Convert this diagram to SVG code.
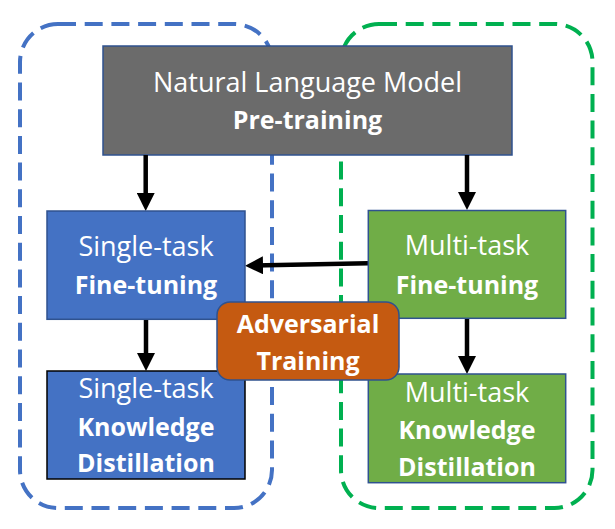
<svg xmlns="http://www.w3.org/2000/svg" width="615" height="529" viewBox="0 0 615 529">
  <defs>
    <marker id="arrow" viewBox="0 0 18 18" refX="10" refY="9" markerWidth="18" markerHeight="18" markerUnits="userSpaceOnUse" orient="auto">
      <path d="M0,0 L18,9 L0,18 Z" fill="#000"/>
    </marker>
    <style>
      .group { fill: none; stroke-width: 4; stroke-dasharray: 18 8.7; }
      .box { stroke-width: 1.5; }
      .t { font-family: "Open Sans", "Noto Sans", sans-serif; fill: #fff; text-anchor: middle; }
      .r { font-size: 27px; font-weight: 400; }
      .b { font-size: 25px; font-weight: 700; }
      .conn { stroke: #000; stroke-width: 4.5; fill: none; marker-end: url(#arrow); }
    </style>
  </defs>
  <rect width="615" height="529" fill="#fff"/>

  <g id="single-task-group">
    <rect class="group" x="20" y="24" width="252" height="484" rx="38" ry="38" stroke="#4472c4"/>
  </g>
  <g id="multi-task-group">
    <rect class="group" x="341" y="24" width="251.5" height="484" rx="38" ry="38" stroke="#00b050"/>
  </g>

  <g id="pretraining">
    <rect class="box" x="103" y="46" width="409" height="109" fill="#6b6b6b" stroke="#2f528f"/>
    <text class="t r" x="307.5" y="91.7">Natural Language Model</text>
    <text class="t b" x="307.5" y="129.3">Pre-training</text>
  </g>

  <g id="connectors">
    <line class="conn" x1="145.7" y1="155" x2="145.7" y2="203"/>
    <line class="conn" x1="467" y1="155" x2="467" y2="202"/>
    <line class="conn" x1="146" y1="319" x2="146" y2="363"/>
    <line class="conn" x1="467" y1="318" x2="467" y2="366"/>
    <line class="conn" x1="368" y1="263.3" x2="253" y2="265.5"/>
  </g>

  <g id="single-task-finetuning">
    <rect class="box" x="47" y="211" width="198" height="108.3" fill="#4472c4" stroke="#2f528f"/>
    <text class="t r" x="146" y="256">Single-task</text>
    <text class="t b" x="146" y="294.3">Fine-tuning</text>
  </g>

  <g id="multi-task-finetuning">
    <rect class="box" x="368.3" y="210.5" width="197.4" height="107.8" fill="#70ad47" stroke="#2f528f"/>
    <text class="t r" x="467" y="255">Multi-task</text>
    <text class="t b" x="467" y="294.3">Fine-tuning</text>
  </g>

  <g id="single-task-kd">
    <rect class="box" x="47" y="371" width="198" height="108" fill="#4472c4" stroke="#000"/>
    <text class="t r" x="146" y="398">Single-task</text>
    <text class="t b" x="146" y="435.7">Knowledge</text>
    <text class="t b" x="146" y="472">Distillation</text>
  </g>

  <g id="multi-task-kd">
    <rect class="box" x="368.3" y="374" width="197.4" height="108.7" fill="#70ad47" stroke="#2f528f"/>
    <text class="t r" x="467" y="402">Multi-task</text>
    <text class="t b" x="467" y="439">Knowledge</text>
    <text class="t b" x="467" y="475.7">Distillation</text>
  </g>

  <g id="adversarial-training">
    <rect class="box" x="217" y="302" width="182" height="78" rx="13" ry="13" fill="#c55a11" stroke="#2f528f"/>
    <text class="t b" x="308" y="332.7">Adversarial</text>
    <text class="t b" x="308" y="370">Training</text>
  </g>
</svg>
